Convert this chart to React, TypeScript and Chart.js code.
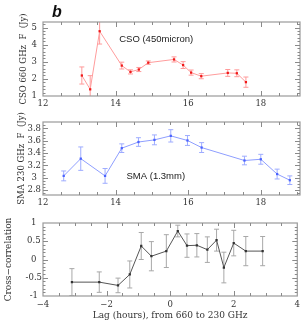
import React, { useEffect, useRef } from 'react';
import { Chart, registerables } from 'chart.js';
Chart.register(...registerables);

// Panel 1: CSO 660 GHz (450 micron) light curve
const csoTime = [13.07, 13.3, 13.56, 14.17, 14.41, 14.64, 14.9, 15.61, 15.86, 16.08, 16.36, 17.09, 17.34, 17.59];
const csoFlux = [2.2, 1.39, 4.79, 2.78, 2.41, 2.55, 2.95, 3.14, 2.81, 2.37, 2.16, 2.35, 2.33, 1.81];
const csoErr = [0.5, 0.8, 0.75, 0.2, 0.12, 0.12, 0.1, 0.15, 0.2, 0.15, 0.15, 0.2, 0.2, 0.3];

// Panel 2: SMA 230 GHz (1.3 mm) light curve
const smaTime = [12.57, 13.04, 13.71, 14.17, 14.63, 15.07, 15.52, 15.98, 16.37, 17.55, 18.0, 18.45, 18.8];
const smaFlux = [3.03, 3.31, 3.03, 3.48, 3.58, 3.615, 3.68, 3.605, 3.49, 3.28, 3.3, 3.06, 2.96];
const smaErr = [0.08, 0.19, 0.12, 0.07, 0.07, 0.08, 0.1, 0.08, 0.08, 0.07, 0.08, 0.08, 0.07];

// Panel 3: cross-correlation vs lag
const lagHours = [-3.09, -2.23, -1.64, -1.27, -0.91, -0.59, -0.12, 0.24, 0.53, 0.84, 1.17, 1.46, 1.69, 2.0, 2.38, 2.91];
const crossCorr = [-0.62, -0.62, -0.71, -0.41, 0.37, 0.09, 0.23, 0.78, 0.38, 0.39, 0.27, 0.53, -0.22, 0.45, 0.23, 0.23];
const crossErr = [0.37, 0.28, 0.2, 0.37, 0.37, 0.4, 0.45, 0.16, 0.32, 0.32, 0.35, 0.3, 0.42, 0.35, 0.4, 0.4];

// Tick labels
const timeTicks = [12, 14, 16, 18];
const csoYTicks = [1, 2, 3, 4, 5];
const smaYTicks = [2.8, 3, 3.2, 3.4, 3.6, 3.8];
const lagTicks = [-4, -2, 0, 2, 4];
const corrTicks = [-1, -0.5, 0, 0.5, 1];

const TICK_FONT = '"DejaVu Serif", serif';

type Panel = {
  top: number; height: number;
  x: number[]; y: number[]; err: number[];
  xMin: number; xMax: number; yMin: number; yMax: number;
  xTicks: number[]; yTicks: number[]; xMinor: number; yMinor: number;
  lineColor: string; pointColor: string; errColor: string;
  yTitle: string; yTitleSize: number; yTitlePad: number;
  xTitle?: string;
  padTop: number; xAxisH: number; yLabelPad: number; yCross: 'near' | 'center';
  xLabelPad: number;
  label?: { text: string; x: number; y: number };
  fmtX: (v: number) => string; fmtY: (v: number) => string;
};

const minusFmt = (v: number) => (v < 0 ? '\u2212' + String(-v) : String(v));

const panels: Panel[] = [
  {
    top: 0, height: 110,
    x: csoTime, y: csoFlux, err: csoErr,
    xMin: 12, xMax: 19.08, yMin: 1, yMax: 5.33,
    xTicks: timeTicks, yTicks: csoYTicks, xMinor: 0.5, yMinor: 0.2,
    lineColor: '#ff9c9c', pointColor: '#f01818', errColor: '#ff9a9a',
    yTitle: 'CSO 660 GHz  F  (Jy)', yTitleSize: 8.5, yTitlePad: 19,
    padTop: 22, xAxisH: 14, yLabelPad: 6, yCross: 'near', xLabelPad: 3,
    label: { text: 'CSO (450micron)', x: 14.1, y: 4.3 },
    fmtX: (v) => String(v), fmtY: (v) => String(v),
  },
  {
    top: 110, height: 100,
    x: smaTime, y: smaFlux, err: smaErr,
    xMin: 12, xMax: 19.08, yMin: 2.72, yMax: 3.905,
    xTicks: timeTicks, yTicks: smaYTicks, xMinor: 0.5, yMinor: 0.05,
    lineColor: '#8e9eff', pointColor: '#4a62ff', errColor: '#9eacff',
    yTitle: 'SMA 230 GHz  F  (Jy)', yTitleSize: 8.5, yTitlePad: 17,
    padTop: 12, xAxisH: 15, yLabelPad: 2, yCross: 'center', xLabelPad: 3,
    label: { text: 'SMA (1.3mm)', x: 14.3, y: 3.03 },
    fmtX: (v) => String(v), fmtY: (v) => String(v),
  },
  {
    top: 210, height: 115,
    x: lagHours, y: crossCorr, err: crossErr,
    xMin: -4, xMax: 4, yMin: -1, yMax: 1,
    xTicks: lagTicks, yTicks: corrTicks, xMinor: 0.5, yMinor: 0.1,
    lineColor: '#555555', pointColor: '#333333', errColor: '#a8a8a8',
    yTitle: 'Cross\u2212correlation', yTitleSize: 9, yTitlePad: 3,
    xTitle: 'Lag (hours), from 660 to 230 GHz',
    padTop: 13, xAxisH: 29, yLabelPad: 1, yCross: 'center', xLabelPad: 4,
    fmtX: minusFmt, fmtY: (v) => (v < 0 ? '-' + String(-v) : String(v)),
  },
];

function makeDeco(p: Panel) {
  return {
    id: 'deco',
    beforeDatasetsDraw(chart: any) {
      const { ctx, chartArea: a, scales } = chart;
      const xs = scales.x, ys = scales.y;
      ctx.save();
      ctx.beginPath();
      ctx.rect(a.left, a.top, a.right - a.left, a.bottom - a.top);
      ctx.clip();
      ctx.strokeStyle = p.errColor;
      ctx.lineWidth = 1;
      p.x.forEach((xv, i) => {
        const px = xs.getPixelForValue(xv);
        const t = ys.getPixelForValue(p.y[i] + p.err[i]);
        const b = ys.getPixelForValue(p.y[i] - p.err[i]);
        ctx.beginPath();
        ctx.moveTo(px, t); ctx.lineTo(px, b);
        ctx.moveTo(px - 2.5, t); ctx.lineTo(px + 2.5, t);
        ctx.moveTo(px - 2.5, b); ctx.lineTo(px + 2.5, b);
        ctx.stroke();
      });
      ctx.restore();
    },
    afterDraw(chart: any) {
      const { ctx, chartArea: a, scales } = chart;
      const xs = scales.x, ys = scales.y;
      ctx.save();
      ctx.strokeStyle = '#9a9a9a';
      ctx.lineWidth = 1.2;
      ctx.strokeRect(a.left, a.top, a.right - a.left, a.bottom - a.top);
      ctx.strokeStyle = '#8a8a8a';
      ctx.lineWidth = 1;
      const isMajor = (v: number, arr: number[]) => arr.some((m) => Math.abs(m - v) < 1e-6);
      // x ticks
      const xStart = Math.ceil(p.xMin / p.xMinor - 1e-9) * p.xMinor;
      for (let v = xStart; v <= p.xMax + 1e-9; v += p.xMinor) {
        const len = isMajor(v, p.xTicks) ? 5 : 3;
        const px = Math.round(xs.getPixelForValue(v)) + 0.5;
        if (px <= a.left + 1 || px >= a.right - 1) continue;
        ctx.beginPath();
        ctx.moveTo(px, a.bottom); ctx.lineTo(px, a.bottom - len);
        ctx.moveTo(px, a.top); ctx.lineTo(px, a.top + len);
        ctx.stroke();
      }
      const yStart = Math.ceil(p.yMin / p.yMinor - 1e-9) * p.yMinor;
      for (let v = yStart; v <= p.yMax + 1e-9; v += p.yMinor) {
        const len = isMajor(v, p.yTicks) ? 5 : 2.5;
        const py = Math.round(ys.getPixelForValue(v)) + 0.5;
        if (py <= a.top + 1 || py >= a.bottom - 1) continue;
        ctx.beginPath();
        ctx.moveTo(a.left, py); ctx.lineTo(a.left + len, py);
        ctx.moveTo(a.right, py); ctx.lineTo(a.right - len, py);
        ctx.stroke();
      }
      if (p.label) {
        ctx.fillStyle = '#1a1a1a';
        ctx.font = '9.5px "Liberation Sans", Arial, sans-serif';
        ctx.textAlign = 'left';
        ctx.textBaseline = 'middle';
        ctx.fillText(p.label.text, xs.getPixelForValue(p.label.x), ys.getPixelForValue(p.label.y));
      }
      ctx.restore();
    },
  };
}

function PanelChart({ p }: { p: Panel }) {
  const ref = useRef<HTMLCanvasElement | null>(null);
  useEffect(() => {
    if (!ref.current) return;
    const chart = new Chart(ref.current, {
      type: 'line',
      data: {
        datasets: [
          {
            data: p.x.map((xv, i) => ({ x: xv, y: p.y[i] })),
            borderColor: p.lineColor,
            borderWidth: 1,
            pointStyle: 'rect',
            pointRadius: 1.6,
            pointBackgroundColor: p.pointColor,
            pointBorderColor: p.pointColor,
            pointBorderWidth: 0,
            tension: 0,
            fill: false,
          },
        ],
      },
      options: {
        responsive: false,
        animation: false,
        devicePixelRatio: 1,
        layout: { padding: { top: p.padTop, right: 2, left: 0, bottom: 0 } },
        plugins: { legend: { display: false }, tooltip: { enabled: false } },
        scales: {
          x: {
            type: 'linear',
            min: p.xMin,
            max: p.xMax,
            afterBuildTicks: (s: any) => { s.ticks = p.xTicks.map((v) => ({ value: v })); },
            afterFit: (s: any) => { s.height = p.xAxisH; },
            grid: { display: false, drawTicks: false },
            border: { display: false },
            ticks: {
              autoSkip: false, maxRotation: 0, padding: p.xLabelPad,
              color: '#333', font: { family: TICK_FONT, size: 8.5 },
              callback: (v: any) => p.fmtX(Number(v)),
            },
            title: p.xTitle
              ? { display: true, text: p.xTitle, color: '#333', font: { family: TICK_FONT, size: 9 }, padding: { top: 0, bottom: 3.5 } }
              : { display: false },
          },
          y: {
            type: 'linear',
            min: p.yMin,
            max: p.yMax,
            afterBuildTicks: (s: any) => { s.ticks = p.yTicks.map((v) => ({ value: v })); },
            afterFit: (s: any) => { s.width = 43; },
            grid: { display: false, drawTicks: false },
            border: { display: false },
            ticks: {
              autoSkip: false, padding: p.yLabelPad, crossAlign: p.yCross,
              color: '#333', font: { family: TICK_FONT, size: 8.5 },
              callback: (v: any) => p.fmtY(Number(v)),
            },
            title: {
              display: true, text: p.yTitle, color: '#333',
              font: { family: TICK_FONT, size: p.yTitleSize },
              padding: { top: p.yTitlePad, bottom: 0 },
            },
          },
        },
      },
      plugins: [makeDeco(p)],
    } as any);
    return () => chart.destroy();
  }, [p]);
  return (
    <canvas
      ref={ref}
      width={304}
      height={p.height}
      style={{ position: 'absolute', left: 0, top: p.top, width: 304, height: p.height }}
    />
  );
}

export default function App() {
  return (
    <div style={{ position: 'absolute', left: 0, top: 0, width: 304, height: 325, background: '#fff' }}>
      {panels.map((p, i) => (
        <PanelChart key={i} p={p} />
      ))}
      <div
        style={{
          position: 'absolute', left: 52, top: 4,
          font: 'italic bold 16px "Liberation Sans", Arial, sans-serif',
          lineHeight: '16px', color: '#111',
        }}
      >
        b
      </div>
    </div>
  );
}
